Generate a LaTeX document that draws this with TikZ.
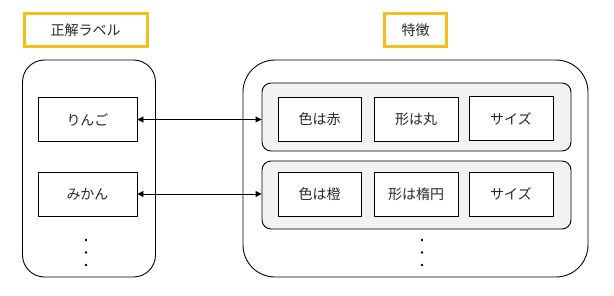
\documentclass[tikz,border=0pt]{standalone}
\usepackage{fontspec}
\setmainfont{Noto Sans CJK JP}
\usepackage{xcolor}
\usepackage{tikz}
\usetikzlibrary{arrows.meta,positioning,calc}
\definecolor{tagyellow}{RGB}{245,190,25}
\definecolor{rowgray}{RGB}{242,242,242}
\definecolor{inkgray}{RGB}{40,40,40}
\tikzset{
  tagbox/.style={draw=tagyellow, line width=3pt, fill=white,
                 minimum height=33pt, inner sep=0pt,
                 font=\fontsize{14}{16}\selectfont, text=inkgray},
  holder/.style={draw=black, line width=0.9pt, fill=white,
                 minimum height=217pt, inner sep=0pt},
  rowbox/.style={draw=black, line width=0.9pt, fill=rowgray, rounded corners=9pt,
                 minimum width=309pt, minimum height=68pt, inner sep=0pt},
  itembox/.style={draw=black, line width=0.9pt, fill=white, inner sep=0pt,
                  minimum height=44pt, font=\fontsize{14}{16}\selectfont,
                  text=inkgray},
  linkarr/.style={{Triangle[length=6pt,width=6pt]}-{Triangle[length=6pt,width=6pt]},
                  line width=0.9pt}
}

\begin{document}
\begin{tikzpicture}[x=1pt, y=-1pt]
    \useasboundingbox (0,0) rectangle (614,295);

    % headings
    \node[tagbox, minimum width=123pt] (tlabel) at (85.5,30) {正解ラベル};
    \node[tagbox, minimum width=62pt] (tfeat) at (415.5,30) {特徴};

    % containers
    \node[holder, minimum width=133pt, rounded corners=22pt] (left) at (89,168.5) {};
    \node[holder, minimum width=345pt, rounded corners=32pt] (right) at (415.5,168.5) {};

    % labels
    \node[itembox, minimum width=99pt] (apple) at (87.5,119.5) {りんご};
    \node[itembox, minimum width=99pt] (orange) at (87.5,194) {みかん};

    % feature rows
    \node[rowbox] (row1) at (416.5,117) {};
    \node[rowbox] (row2) at (416.5,195) {};

    \node[itembox, minimum width=83pt] (c1) at (319.5,119) {色は赤};
    \node[itembox, minimum width=84pt] (s1) at (416,119) {形は丸};
    \node[itembox, minimum width=84pt] (z1) at (511,118.5) {サイズ};

    \node[itembox, minimum width=83pt] (c2) at (319.5,194) {色は橙};
    \node[itembox, minimum width=84pt] (s2) at (416,194) {形は楕円};
    \node[itembox, minimum width=84pt] (z2) at (511,194) {サイズ};

    \draw[linkarr] (apple.east) -- (apple.east -| row1.west);
    \draw[linkarr] (orange.east) -- (orange.east -| row2.west);

    % continuation dots
    \foreach \yy in {240,252.5,265} {
      \fill (86,\yy) circle (1.4pt);
      \fill (422,\yy) circle (1.4pt);
    }
\end{tikzpicture}
\end{document}
